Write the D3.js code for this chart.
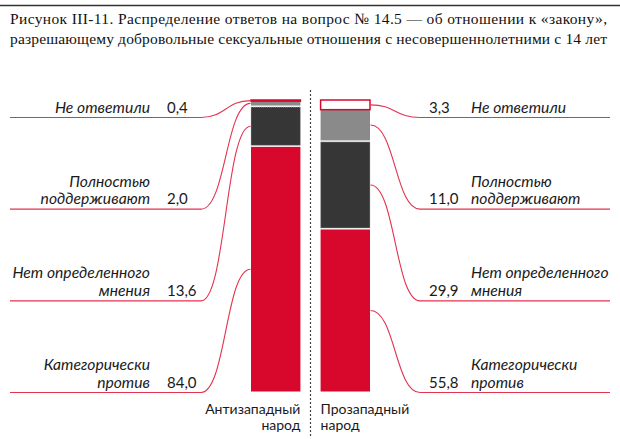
<!DOCTYPE html>
<html><head><meta charset="utf-8">
<script src="https://cdn.jsdelivr.net/npm/d3@7"></script>
<style>
html,body{margin:0;padding:0;background:#fff;}
svg{display:block;}
</style></head>
<body>
<script>
// ---- data ----
const titleLines = [
  "Рисунок III-11. Распределение ответов на вопрос № 14.5 — об отношении к «закону»,",
  "разрешающему добровольные сексуальные отношения с несовершеннолетними с 14 лет"
];
const groups = ["Антизападный народ", "Прозападный народ"];
const groupLabels = [["Антизападный", "народ"], ["Прозападный", "народ"]];
const categories = ["Категорически против", "Нет определенного мнения", "Полностью поддерживают", "Не ответили"];
const categoryLabels = [["Категорически", "против"], ["Нет определенного", "мнения"], ["Полностью", "поддерживают"], ["Не ответили"]];
const antiWestern = [84.0, 13.6, 2.0, 0.4];
const proWestern = [55.8, 29.9, 11.0, 3.3];
const fmt = v => v.toFixed(1).replace(".", ",");

// ---- styles ----
const W = 620, H = 439;
const RED = "#d7082b", LINE = "#e3334f", DARK = "#363636", GREY = "#8a8a8a";
const fills = [RED, DARK, GREY, "#fff"];
const seriesData = [antiWestern, proWestern];

const svg = d3.select("body").append("svg").attr("width", W).attr("height", H);

// title
svg.append("line").attr("x1", 0).attr("x2", W).attr("y1", 5.5).attr("y2", 5.5)
  .attr("stroke", "#333").attr("stroke-width", 1.6);
svg.selectAll("text.title").data(titleLines).join("text")
  .attr("class", "title")
  .attr("x", 10).attr("y", (d, i) => 24 + i * 20)
  .attr("textLength", 597).attr("lengthAdjust", "spacing")
  .style("font-family", "'Liberation Serif', 'DejaVu Serif', serif")
  .style("font-size", "15.5px").attr("fill", "#111")
  .text(d => d);

// scales
const y = d3.scaleLinear().domain([0, 100]).range([393, 100]);
const x = d3.scaleBand().domain(groups).range([251, 370]).paddingInner(0.29).paddingOuter(0);
const row = d3.scalePoint().domain(categories).range([392.5, 117.5]);

// dashed divider
const midX = (x(groups[0]) + x.bandwidth() + x(groups[1])) / 2;
svg.append("line").attr("x1", midX).attr("x2", midX).attr("y1", 90).attr("y2", 437)
  .attr("stroke", "#444").attr("stroke-width", 1.2).attr("stroke-dasharray", "2,2");

// stacked segments
const stacks = seriesData.map((vals, gi) => {
  let acc = 0;
  return vals.map((v, ci) => {
    const s = { g: groups[gi], gi, ci, v, y0: acc, y1: acc + v };
    acc += v;
    return s;
  });
});

const gap = 1.5;
stacks.forEach((segs, gi) => {
  const g = svg.append("g");
  g.selectAll("rect").data(segs).join("rect")
    .attr("x", d => x(d.g))
    .attr("width", x.bandwidth())
    .attr("y", d => y(d.y1))
    .attr("height", d => d.ci === 3 ? Math.max(0.8, y(d.y0) - y(d.y1)) : Math.max(0.5, y(d.y0) - y(d.y1) - gap))
    .attr("fill", d => fills[d.ci])
    .attr("stroke", d => d.ci === 3 ? RED : (d.ci === 1 ? "#b5b5b5" : "none"))
    .attr("stroke-width", d => d.ci === 3 ? 1.5 : 0.8)
    .attr("stroke-dasharray", d => d.ci === 1 ? "1,1" : null);
});

// connectors + labels
const labelFont = "Lato, 'Open Sans', sans-serif";
function connector(seg, side) {
  const ry = row(categories[seg.ci]);
  const sy = (y(seg.y0) + y(seg.y1)) / 2 - (seg.ci === 3 ? 0 : gap / 2);
  if (side === "left") {
    const bx = x(seg.g) - 0.5, x0 = 201, xFar = 10;
    const cx = (x0 + bx) / 2;
    return `M${xFar},${ry}H${x0}C${cx},${ry} ${cx},${sy} ${bx},${sy}`;
  } else {
    const bx = x(seg.g) + x.bandwidth() + 0.5, x0 = 420, xFar = 610;
    const cx = (x0 + bx) / 2;
    return `M${bx},${sy}C${cx},${sy} ${cx},${ry} ${x0},${ry}H${xFar}`;
  }
}

stacks.forEach((segs, gi) => {
  const side = gi === 0 ? "left" : "right";
  svg.append("g").selectAll("path").data(segs).join("path")
    .attr("d", d => connector(d, side))
    .attr("fill", "none").attr("stroke", LINE).attr("stroke-width", 1.1);

  const lg = svg.append("g");
  segs.forEach(seg => {
    const ry = row(categories[seg.ci]);
    const lines = categoryLabels[seg.ci];
    const t = lg.append("text")
      .attr("x", side === "left" ? 150 : 471)
      .attr("text-anchor", side === "left" ? "end" : "start")
      .style("font-family", labelFont).style("font-style", "italic")
      .style("font-size", "15.7px").attr("fill", "#1a1a1a");
    lines.forEach((ln, i) => {
      t.append("tspan").attr("x", side === "left" ? 150 : 471)
        .attr("y", ry - 5 - (lines.length - 1 - i) * 17.5).text(ln);
    });
    lg.append("text")
      .attr("x", side === "left" ? 167 : 429)
      .attr("y", ry - 5)
      .style("font-family", labelFont).style("font-size", "15px").attr("fill", "#1a1a1a")
      .text(fmt(seg.v));
  });
});

// group labels
groups.forEach((gname, gi) => {
  const t = svg.append("text")
    .attr("text-anchor", gi === 0 ? "end" : "start")
    .style("font-family", labelFont).style("font-size", "14px").attr("fill", "#1a1a1a");
  const gx = gi === 0 ? x(gname) + x.bandwidth() : x(gname);
  groupLabels[gi].forEach((ln, i) => {
    t.append("tspan").attr("x", gx).attr("y", 414 + i * 15.5).text(ln);
  });
});
</script>
</body></html>
